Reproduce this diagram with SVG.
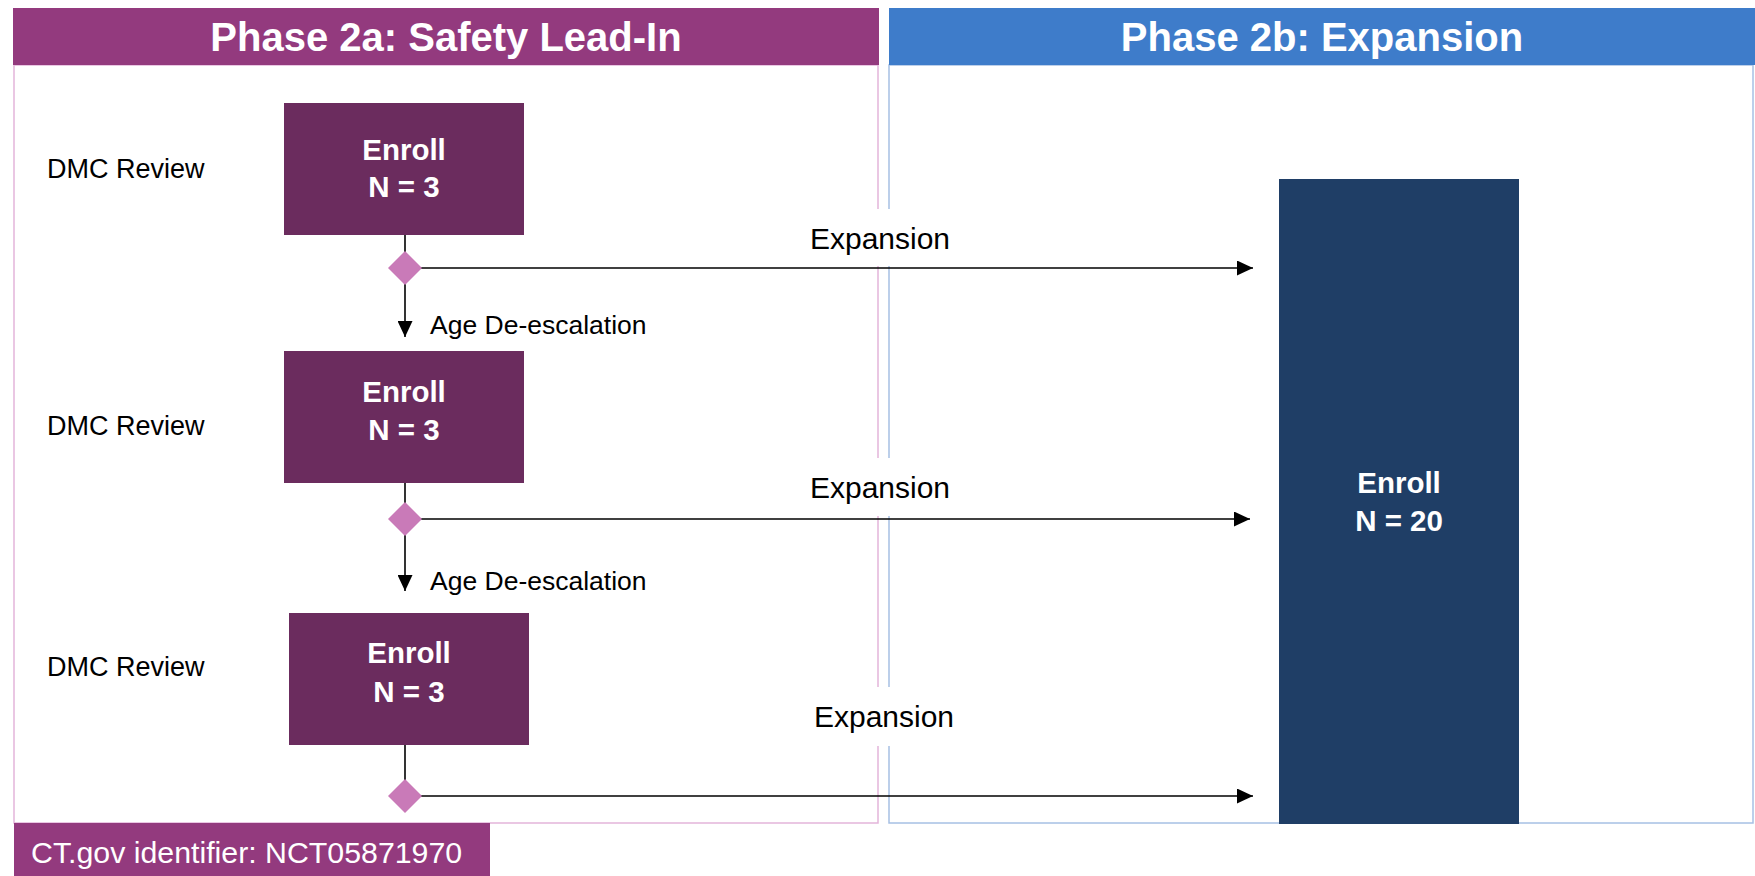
<svg xmlns="http://www.w3.org/2000/svg" width="1755" height="876" viewBox="0 0 1755 876">
  <style>
    .hdr-a { fill: #933A7E; }
    .hdr-b { fill: #3E7CCA; }
    .panel-a { fill: none; stroke: #E3B5DA; stroke-width: 1.5; }
    .panel-b { fill: none; stroke: #A6C0E4; stroke-width: 1.5; }
    .title { font-family: "Liberation Sans", Arial, sans-serif; font-weight: bold; font-size: 40px; fill: #FFFFFF; text-anchor: middle; }
    .enroll { fill: #6B2C5E; }
    .big { fill: #1F3E66; }
    .node-text { font-family: "Liberation Sans", Arial, sans-serif; font-weight: bold; font-size: 29.5px; fill: #FFFFFF; text-anchor: middle; }
    .label { font-family: "Liberation Sans", Arial, sans-serif; font-size: 27px; fill: #000000; }
    .small { font-family: "Liberation Sans", Arial, sans-serif; font-size: 26.5px; fill: #000000; }
    .exp { font-family: "Liberation Sans", Arial, sans-serif; font-size: 30px; fill: #000000; text-anchor: middle; }
    .footer-text { font-family: "Liberation Sans", Arial, sans-serif; font-size: 30.3px; fill: #FFFFFF; }
    .diamond { fill: #C97AB8; }
    .conn { stroke: #000000; stroke-width: 1.6; fill: none; }
    .mask { fill: #FFFFFF; }
  </style>
  <defs>
    <marker id="arrow" markerUnits="userSpaceOnUse" markerWidth="16" markerHeight="15" refX="16" refY="7.5" orient="auto">
      <path d="M0,0 L16,7.5 L0,15 Z" fill="#000000"/>
    </marker>
  </defs>

  <rect width="1755" height="876" fill="#FFFFFF"/>

  <!-- Phase panels -->
  <g id="phase-2a">
    <rect class="panel-a" x="14" y="65" width="864" height="758"/>
    <rect class="hdr-a" x="13" y="8" width="866" height="57"/>
    <text class="title" x="446" y="51">Phase 2a: Safety Lead-In</text>
  </g>
  <g id="phase-2b">
    <rect class="panel-b" x="889" y="65" width="864" height="758"/>
    <rect class="hdr-b" x="889" y="8" width="866" height="57"/>
    <text class="title" x="1322" y="51">Phase 2b: Expansion</text>
  </g>

  <!-- Side labels -->
  <g id="dmc-labels">
    <text class="label" x="47" y="178">DMC Review</text>
    <text class="label" x="47" y="435">DMC Review</text>
    <text class="label" x="47" y="676">DMC Review</text>
  </g>

  <!-- Expansion labels sit on a white backing across the panel borders -->
  <g id="expansion-labels">
    <rect class="mask" x="803" y="209" width="156" height="57"/>
    <text class="exp" x="880" y="249">Expansion</text>
    <rect class="mask" x="803" y="458" width="156" height="58"/>
    <text class="exp" x="880" y="498">Expansion</text>
    <rect class="mask" x="806" y="687" width="156" height="59"/>
    <text class="exp" x="884" y="727">Expansion</text>
  </g>

  <!-- Connectors -->
  <g id="connectors">
    <line class="conn" x1="405" y1="235" x2="405" y2="337" marker-end="url(#arrow)"/>
    <line class="conn" x1="405" y1="483" x2="405" y2="591" marker-end="url(#arrow)"/>
    <line class="conn" x1="405" y1="745" x2="405" y2="790"/>
    <line class="conn" x1="405" y1="268" x2="1253" y2="268" marker-end="url(#arrow)"/>
    <line class="conn" x1="405" y1="519" x2="1250" y2="519" marker-end="url(#arrow)"/>
    <line class="conn" x1="405" y1="796" x2="1253" y2="796" marker-end="url(#arrow)"/>
  </g>

  <g id="age-labels">
    <text class="small" x="430" y="334">Age De-escalation</text>
    <text class="small" x="430" y="590">Age De-escalation</text>
  </g>

  <!-- Cohort nodes -->
  <g id="enroll-1">
    <rect class="enroll" x="284" y="103" width="240" height="132"/>
    <text class="node-text" x="404" y="160">Enroll</text>
    <text class="node-text" x="404" y="197">N = 3</text>
  </g>
  <g id="enroll-2">
    <rect class="enroll" x="284" y="351" width="240" height="132"/>
    <text class="node-text" x="404" y="402">Enroll</text>
    <text class="node-text" x="404" y="440">N = 3</text>
  </g>
  <g id="enroll-3">
    <rect class="enroll" x="289" y="613" width="240" height="132"/>
    <text class="node-text" x="409" y="663">Enroll</text>
    <text class="node-text" x="409" y="702">N = 3</text>
  </g>

  <!-- Decision points -->
  <g id="decision-1"><path class="diamond" d="M405,251 L422,268 L405,285 L388,268 Z"/></g>
  <g id="decision-2"><path class="diamond" d="M405,502 L422,519 L405,536 L388,519 Z"/></g>
  <g id="decision-3"><path class="diamond" d="M405,779 L422,796 L405,813 L388,796 Z"/></g>

  <!-- Expansion cohort -->
  <g id="enroll-expansion">
    <rect class="big" x="1279" y="179" width="240" height="645"/>
    <text class="node-text" x="1399" y="493">Enroll</text>
    <text class="node-text" x="1399" y="531">N = 20</text>
  </g>

  <!-- Registry identifier -->
  <g id="footer">
    <rect class="hdr-a" x="14" y="823" width="476" height="53"/>
    <text class="footer-text" x="31" y="863">CT.gov identifier: NCT05871970</text>
  </g>
</svg>
